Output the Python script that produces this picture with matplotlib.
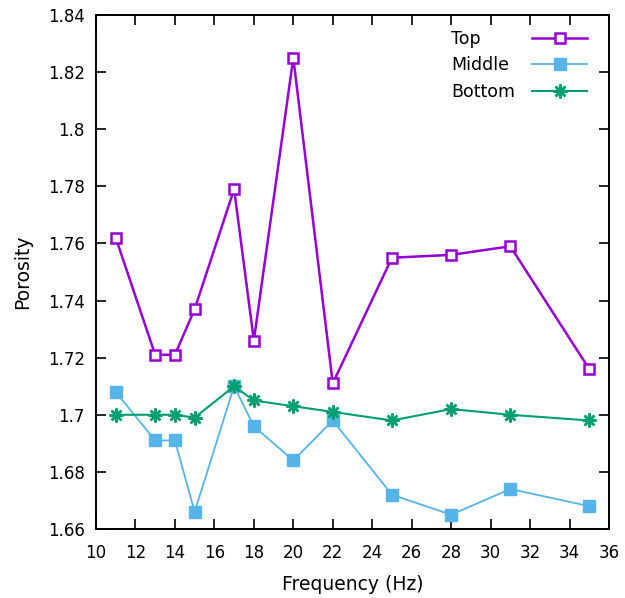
import matplotlib
matplotlib.use("Agg")
import matplotlib.pyplot as plt

freq = [11, 13, 14, 15, 17, 18, 20, 22, 25, 28, 31, 35]
top = [1.762, 1.721, 1.721, 1.737, 1.779, 1.726, 1.825, 1.711, 1.755, 1.756, 1.759, 1.716]
middle = [1.708, 1.691, 1.691, 1.666, 1.710, 1.696, 1.684, 1.698, 1.672, 1.665, 1.674, 1.668]
bottom = [1.700, 1.700, 1.700, 1.699, 1.710, 1.705, 1.703, 1.701, 1.698, 1.702, 1.700, 1.698]

xticks = list(range(10, 37, 2))
yticks = [1.66, 1.68, 1.70, 1.72, 1.74, 1.76, 1.78, 1.80, 1.82, 1.84]
ytick_labels = ["1.66", "1.68", "1.7", "1.72", "1.74", "1.76", "1.78", "1.8", "1.82", "1.84"]

plt.rcParams['font.family'] = ['DejaVu Sans']

fig = plt.figure(figsize=(6.25, 5.98), dpi=100)
ax = fig.add_axes([0.1536, 0.1154, 0.8208, 0.8595])

ax.plot(freq, top, color='#9400D3', lw=1.8, marker='s', ms=7.5,
        mfc='white', mec='#9400D3', mew=1.8, label='Top')
ax.plot(freq, middle, color='#56B4E9', lw=1.3, marker='s', ms=8,
        mfc='#56B4E9', mec='#56B4E9', label='Middle')
ax.plot(freq, bottom, color='#009E73', lw=1.5, marker=(8, 2, 0), ms=10,
        mec='#009E73', mew=1.8, label='Bottom')

ax.set_xlim(10, 36)
ax.set_ylim(1.66, 1.84)
ax.set_xticks(xticks)
ax.set_yticks(yticks)
ax.set_yticklabels(ytick_labels)
ax.tick_params(direction='in', top=True, right=True, length=7.5, width=1.2,
               labelsize=12)
ax.tick_params(axis='x', pad=11)
ax.tick_params(axis='y', pad=8)
for s in ax.spines.values():
    s.set_linewidth(1.4)

ax.set_xlabel('Frequency (Hz)', fontsize=13.5, labelpad=9)
ax.set_ylabel('Porosity', fontsize=13.5, labelpad=11)

leg = ax.legend(loc='upper right', frameon=False, markerfirst=False,
                fontsize=12.5, handlelength=3.2, handletextpad=0.98,
                labelspacing=0.48, borderaxespad=0.0, borderpad=0.0,
                bbox_to_anchor=(0.958, 0.971))

# left-justify the key labels while keeping the samples lined up on the right
fig.canvas.draw()
renderer = fig.canvas.get_renderer()
texts = leg.get_texts()
widths = [t.get_window_extent(renderer).width for t in texts]
wmax = max(widths)
for t, w in zip(texts, widths):
    t.set_x(-(wmax - w))

fig.savefig('out.png', dpi=100)
